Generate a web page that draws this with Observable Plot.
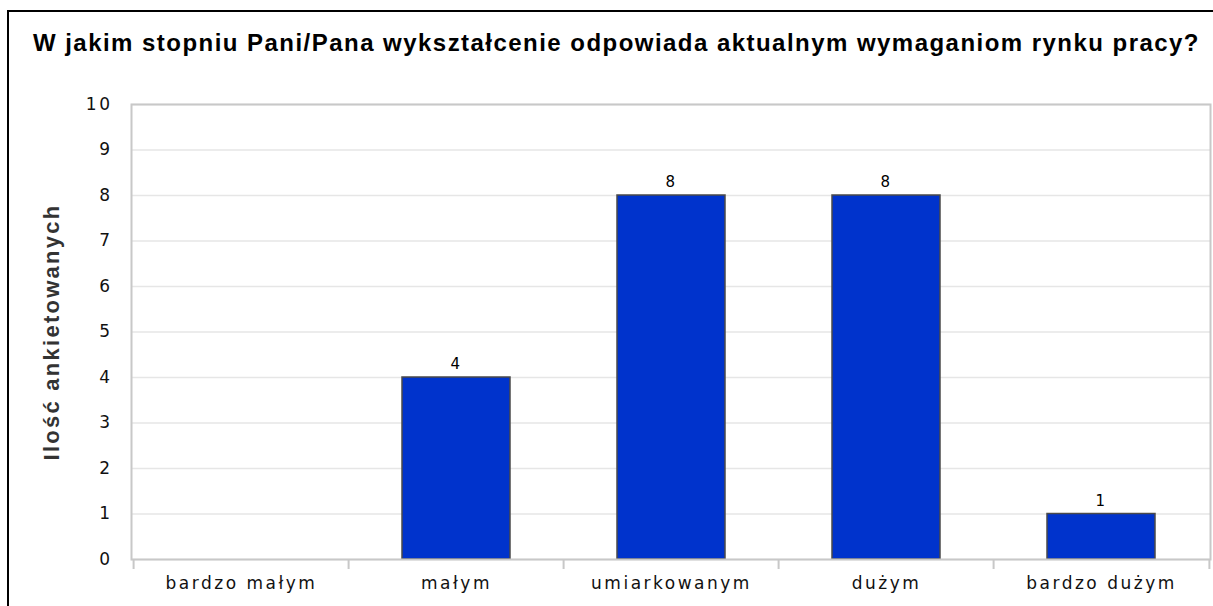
<!DOCTYPE html>
<html><head><meta charset="utf-8">
<script src="https://cdn.jsdelivr.net/npm/d3@7"></script>
<script src="https://cdn.jsdelivr.net/npm/@observablehq/plot@0.6"></script>
<style>
body{margin:0;background:#fff;}
#wrap{position:relative;width:1213px;height:606px;overflow:hidden;background:#fff;}
#border{position:absolute;left:7px;top:10px;width:1230px;height:640px;border:2px solid #000;box-sizing:border-box;z-index:5;pointer-events:none;}
#title{position:absolute;left:33px;top:29px;font:bold 24px "Liberation Sans",Arial,sans-serif;color:#000;white-space:nowrap;line-height:28px;}
#chart{position:absolute;left:0;top:60px;}
</style>
</head><body>
<div id="wrap"><div id="chart"></div><div id="title"></div><div id="border"></div></div>
<script>
const categories = ["bardzo małym", "małym", "umiarkowanym", "dużym", "bardzo dużym"];
const counts = [0, 4, 8, 8, 1];
const yTicks = [0, 1, 2, 3, 4, 5, 6, 7, 8, 9, 10];
const titleText = "W jakim stopniu Pani/Pana wykształcenie odpowiada aktualnym wymaganiom rynku pracy?";
const yLabel = "Ilość ankietowanych";

const data = categories.map((c, i) => ({category: c, count: counts[i]}));
const W = 1213, H = 546, mL = 131, mR = 3, mT = 44, mB = 47;
const step = (W - mL - mR) / categories.length;

const titleEl = document.getElementById("title");
titleEl.textContent = titleText;
const natural = titleEl.getBoundingClientRect().width;
titleEl.style.letterSpacing = ((1167 - natural) / titleText.length) + "px";

const chart = Plot.plot({
  width: W, height: H,
  marginLeft: mL, marginRight: mR, marginTop: mT, marginBottom: mB,
  style: {fontFamily: "DejaVu Sans", fontSize: "17px", color: "#111", background: "transparent", overflow: "visible"},
  x: {domain: categories, paddingInner: 0.5, paddingOuter: 0.25},
  y: {domain: [0, 10]},
  marks: [
    Plot.gridY(yTicks, {stroke: "#e6e6e6", strokeOpacity: 1, strokeWidth: 1.5}),
    Plot.barY(data, {x: "category", y: "count", fill: "#0033cc", stroke: "#4a4a4a", strokeWidth: 1.5}),
    Plot.text(data.filter(d => d.count > 0), {x: "category", y: "count", text: d => String(d.count), dy: -13, fontSize: 15, fill: "#000"}),
    Plot.frame({stroke: "#c8c8c8", strokeWidth: 2}),
    Plot.ruleX(categories, {x: d => d, y1: 0, y2: 0, insetBottom: -10, dx: -step / 2, stroke: "#c8c8c8", strokeWidth: 2}),
    Plot.ruleX(categories.slice(-1), {x: d => d, y1: 0, y2: 0, insetBottom: -10, dx: step / 2, stroke: "#c8c8c8", strokeWidth: 2}),
    Plot.axisX({tickSize: 0, tickPadding: 17, label: null, fontSize: 17, fill: "#111"}),
    Plot.axisY(yTicks, {tickSize: 0, tickPadding: 19, label: null, fontSize: 17, fill: "#111"}),
    Plot.text([yLabel], {frameAnchor: "left", textAnchor: "middle", rotate: -90, dx: -80, text: d => d, fontWeight: "bold", fontSize: 22, fontFamily: "Liberation Sans", fill: "#333"})
  ]
});
document.getElementById("chart").appendChild(chart);
d3.select(chart).selectAll("text").style("letter-spacing", "2.5px");
d3.select(chart).selectAll("text").filter(function() { return this.textContent === yLabel; }).each(function() {
  this.style.letterSpacing = "0px";
  const nat = this.getComputedTextLength();
  this.style.letterSpacing = ((257 - nat) / yLabel.length) + "px";
});
</script>
</body></html>
